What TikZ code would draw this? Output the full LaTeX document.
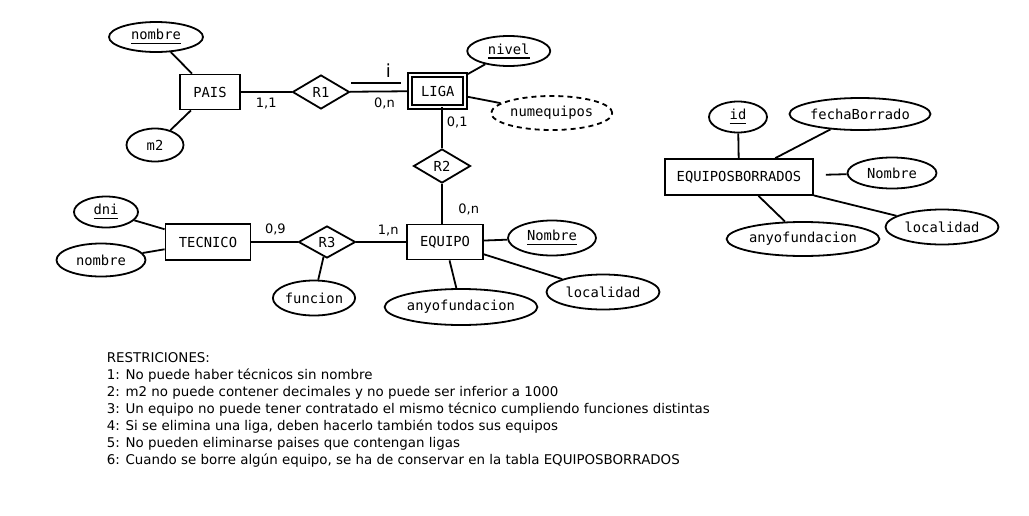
\documentclass[tikz,border=0pt]{standalone}
\usepackage{fontspec}
\setmainfont{DejaVu Sans}
\setmonofont{DejaVu Sans Mono}
\usepackage{tikz}
\usetikzlibrary{shapes.geometric}
\usetikzlibrary{positioning}
\newcommand{\clave}[1]{\leavevmode\setbox0\hbox{#1}\rlap{\rule[-4.5pt]{\wd0}{1.7pt}}\box0}
\tikzset{
    font={\fontsize{13.8pt}{14}\selectfont\ttfamily},
    entity/.style={
           rectangle,
           draw=black, line width=1.8pt,
           inner sep=2pt,
           text centered,
           },
    weakentity/.style={entity, double, double distance=2.2pt},
    relation/.style={
           diamond,
           draw=black, line width=1.8pt,
           inner sep=0pt,
           minimum width=57pt, minimum height=34pt,
           },
    attribute/.style={ellipse, draw=black, line width=1.8pt, inner sep=0pt},
    derived/.style={attribute, dash pattern=on 5pt off 4pt},
    card/.style={font={\fontsize{13pt}{14}\selectfont\rmfamily}, inner sep=1pt},
}
\begin{document}
\begin{tikzpicture}[x=1pt,y=-1pt,line width=1.8pt]
\useasboundingbox (0,0) rectangle (1029,515);

% Entity: PAIS
\node[entity, minimum width=60pt, minimum height=35pt] (PAIS) at (210,92) {PAIS};

\node[attribute, left of=PAIS, node distance=54pt, yshift=55pt, anchor=center, minimum width=94pt, minimum height=30pt] (NOMBREPAIS) {\clave{nombre}};

\node[attribute, left of=PAIS, node distance=55pt, yshift=-53pt, anchor=center, minimum width=57pt, minimum height=33pt] (M2) {m2};

\node[relation, right of=PAIS, node distance=111pt, anchor=center] (R1) {R1};

% Weak entity: LIGA
\node[weakentity, right of=R1, node distance=116.75pt, yshift=1pt, anchor=center, minimum width=55pt, minimum height=32pt] (LIGA) {LIGA};

\node[attribute, right of=LIGA, node distance=71pt, yshift=40pt, anchor=center, minimum width=83pt, minimum height=30pt] (NIVEL) {\clave{nivel}};

\node[derived, right of=LIGA, node distance=114pt, yshift=-22pt, anchor=center, minimum width=121pt, minimum height=34pt] (NUMEQUIPOS) {numequipos};

\node[relation, right of=LIGA, node distance=4.25pt, yshift=-75pt, anchor=center] (R2) {R2};

% Entity: EQUIPO
\node[entity, right of=R2, node distance=3pt, yshift=-76pt, anchor=center, minimum width=76pt, minimum height=35pt] (EQUIPO) {EQUIPO};

\node[attribute, right of=EQUIPO, node distance=107pt, yshift=4pt, anchor=center, minimum width=88pt, minimum height=35pt] (NOMBREEQ) {\clave{Nombre}};

\node[attribute, right of=EQUIPO, node distance=158pt, yshift=-50pt, anchor=center, minimum width=113pt, minimum height=35pt] (LOCALIDAD) {localidad};

\node[attribute, right of=EQUIPO, node distance=16pt, yshift=-65pt, anchor=center, minimum width=145pt, minimum height=36pt] (ANYO) {anyofundacion};

\node[relation, left of=EQUIPO, node distance=118pt, anchor=center, minimum height=32pt] (R3) {R3};

\node[attribute, left of=R3, node distance=13pt, yshift=-56pt, anchor=center, minimum width=82pt, minimum height=35pt] (FUNCION) {funcion};

% Entity: TECNICO
\node[entity, left of=R3, node distance=119pt, anchor=center, minimum width=85pt, minimum height=36pt] (TECNICO) {TECNICO};

\node[attribute, left of=TECNICO, node distance=102pt, yshift=30pt, anchor=center, minimum width=64pt, minimum height=31pt] (DNI) {\clave{dni}};

\node[attribute, left of=TECNICO, node distance=107pt, yshift=-18pt, anchor=center, minimum width=89pt, minimum height=33pt] (NOMBRETEC) {nombre};

% Entity: EQUIPOSBORRADOS
\node[entity, minimum width=148pt, minimum height=36pt] (EQBORRADOS) at (739,177) {EQUIPOSBORRADOS};

\node[attribute, above of=EQBORRADOS, node distance=60pt, xshift=-1pt, anchor=center, minimum width=58pt, minimum height=31pt] (ID) {\clave{id}};

\node[attribute, right of=EQBORRADOS, node distance=121pt, yshift=63pt, anchor=center, minimum width=139pt, minimum height=32pt] (FECHA) {fechaBorrado};

\node[attribute, right of=EQBORRADOS, node distance=153pt, yshift=4pt, anchor=center, minimum width=89pt, minimum height=31pt] (NOMBREEB) {Nombre};

\node[attribute, right of=EQBORRADOS, node distance=203pt, yshift=-50pt, anchor=center, minimum width=113pt, minimum height=35pt] (LOCALIDADEB) {localidad};

\node[attribute, right of=EQBORRADOS, node distance=64pt, yshift=-62pt, anchor=center, minimum width=147pt, minimum height=34pt] (ANYOEB) {anyofundacion};

% mark over R1 -- LIGA
\draw ([shift={(-58,-8)}]LIGA.west) coordinate (MARKL) -- ([shift={(-8,-8)}]LIGA.west) coordinate (MARKR);
\node[font={\fontsize{18pt}{18}\selectfont\rmfamily}, anchor=base, inner sep=0pt] (MARKI) at ([shift={(-13,-6)}]MARKR) {i};

\path (PAIS)    edge node[card, below=4pt]{1,1}                         (R1)
(R1)            edge[shorten >=2pt] node[card, pos=0.58, below=4.5pt]{0,n} (LIGA)
(PAIS)          edge                                                    (NOMBREPAIS)
(PAIS)          edge                                                    (M2)
(LIGA)          edge[shorten <=2pt]                                     (NIVEL)
(LIGA)          edge[shorten <=2pt]                                     (NUMEQUIPOS)
(LIGA.south -| R2.north) edge[shorten <=-1pt] node[card, pos=0.35, right=3pt]{0,1} (R2.north)
(R2.south)      edge node[card, pos=0.64, right=14.5pt]{0,n}            (R2.south |- EQUIPO.north)
(EQUIPO)        edge                                                    (NOMBREEQ)
(EQUIPO)        edge                                                    (LOCALIDAD)
(EQUIPO)        edge                                                    (ANYO)
(R3)            edge node[card, pos=0.64, above=4pt]{1,n}               (EQUIPO)
(TECNICO)       edge node[card, pos=0.52, above=5pt]{0,9}               (R3)
(R3)            edge                                                    (FUNCION)
(TECNICO)       edge                                                    (DNI)
(TECNICO)       edge                                                    (NOMBRETEC)
(EQBORRADOS)    edge                                                    (ID)
(EQBORRADOS)    edge                                                    (FECHA)
(EQBORRADOS)    edge[shorten <=12pt]                                    (NOMBREEB)
(EQBORRADOS)    edge                                                    (LOCALIDADEB)
(EQBORRADOS)    edge                                                    (ANYOEB);

% restrictions
\node[anchor=north west, align=left, inner sep=0pt, font={\fontsize{13.4pt}{16.9pt}\selectfont\rmfamily}] (RESTRICIONES) at (106,352) {%
RESTRICIONES:\\
1: No puede haber técnicos sin nombre\\
2: m2 no puede contener decimales y no puede ser inferior a 1000\\
3: Un equipo no puede tener contratado el mismo técnico cumpliendo funciones distintas\\
4: Si se elimina una liga, deben hacerlo también todos sus equipos\\
5: No pueden eliminarse paises que contengan ligas\\
6: Cuando se borre algún equipo, se ha de conservar en la tabla EQUIPOSBORRADOS};

\end{tikzpicture}
\end{document}
